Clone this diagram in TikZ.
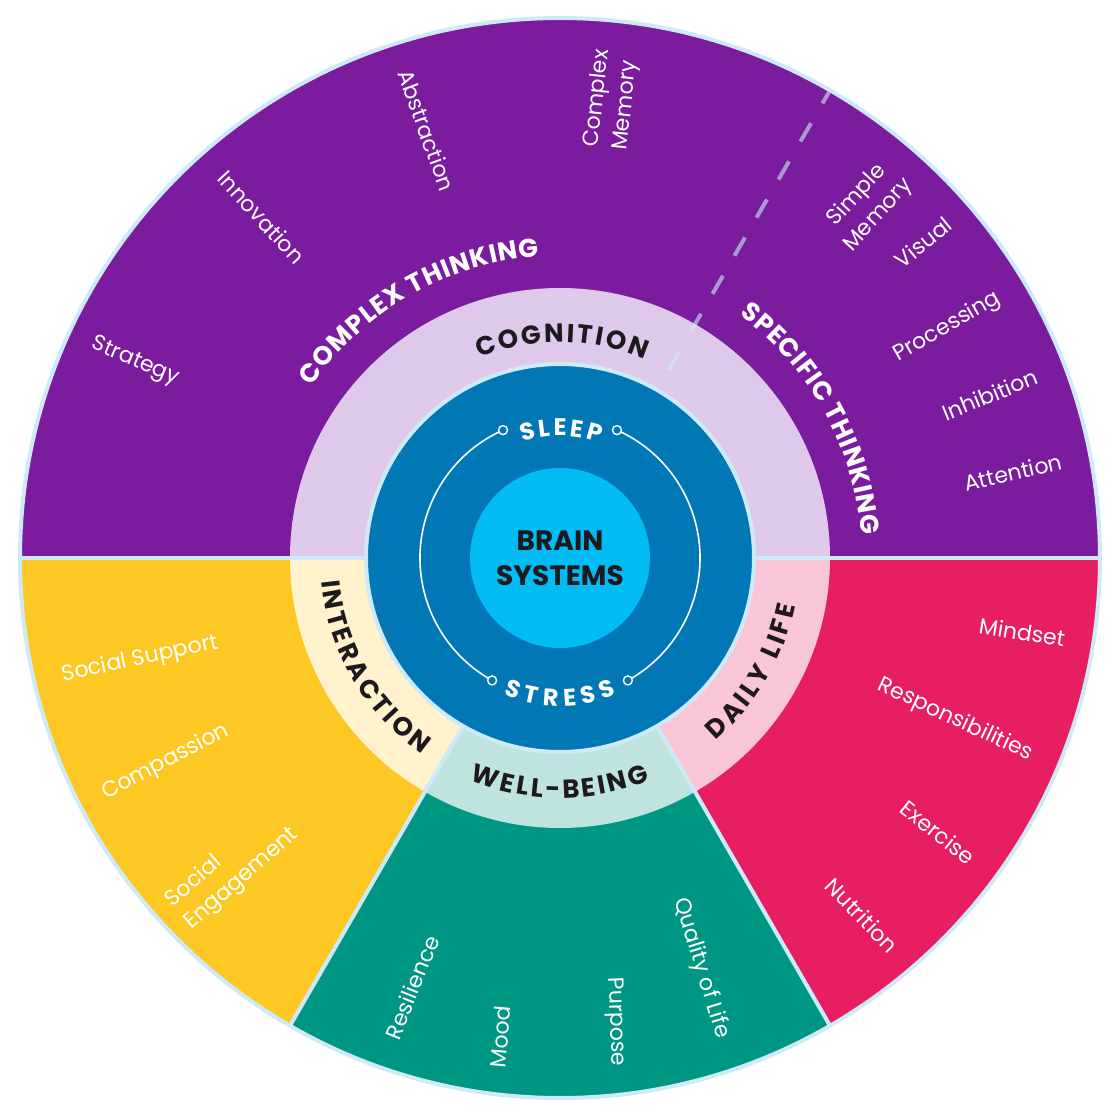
\documentclass[tikz,border=0pt]{standalone}
\usepackage{fontspec}
\setmainfont{Poppins}
\usetikzlibrary{decorations.text}

\definecolor{cogdark}{RGB}{122,28,157}
\definecolor{coglight}{RGB}{222,201,234}
\definecolor{intdark}{RGB}{253,200,35}
\definecolor{intlight}{RGB}{255,242,204}
\definecolor{weldark}{RGB}{0,150,132}
\definecolor{wellight}{RGB}{191,228,224}
\definecolor{daydark}{RGB}{232,30,99}
\definecolor{daylight}{RGB}{248,198,214}
\definecolor{brainblue}{RGB}{2,119,182}
\definecolor{braincyan}{RGB}{0,188,242}
\definecolor{rim}{RGB}{205,234,246}
\definecolor{ink}{RGB}{30,25,30}

\newcommand{\ringfont}{\bfseries\fontsize{26}{26}\selectfont}
\newcommand{\innerfont}{\bfseries\fontsize{24}{24}\selectfont}

\tikzset{
  item/.style={text=white, font=\fontsize{22}{29}\selectfont, align=center, inner sep=0pt},
  ringtext/.style n args={3}{decorate, decoration={text along path,
      text={|#3|#1}, text color=#2, text align=fit to path}},
  sep/.style={rim, line width=4pt},
}

\begin{document}
\begin{tikzpicture}[x=1pt,y=1pt]
\useasboundingbox (-560,-562) rectangle (560,558);
  % sectors, outer and inner ring
  \foreach \a/\b/\dark/\light in {0/180/cogdark/coglight, 180/240/intdark/intlight,
      240/300/weldark/wellight, 300/360/daydark/daylight} {
    \fill[\dark] (0,0) -- (\a:540) arc[start angle=\a, end angle=\b, radius=540] -- cycle;
    \fill[\light] (0,0) -- (\a:270) arc[start angle=\a, end angle=\b, radius=270] -- cycle;
  }
  % dashed split of cognition
  \draw[rim, opacity=.6, line width=4pt, dash pattern=on 21pt off 23pt] (60:217) -- (60:538);
  \foreach \a in {0,180,240,300}
    \draw[sep] (\a:190) -- (\a:540);
  \draw[sep] (0,0) circle[radius=540];
  % brain systems
  \draw[rim, line width=4pt, fill=brainblue] (0,0) circle[radius=194];
  \fill[braincyan] (0,0) circle[radius=90];
  \node[text=ink, font=\bfseries\fontsize{28}{35}\selectfont, align=center] (brain) at (0,0) {BRAIN\\SYSTEMS};
  \draw[white, line width=1.6pt] (66:140) arc[start angle=66, end angle=-61, radius=140];
  \draw[white, line width=1.6pt] (114:140) arc[start angle=114, end angle=241, radius=140];
  \foreach \a in {66,114,241,299}
    \draw[white, line width=1.4pt, fill=brainblue] (\a:140) circle[radius=4.5];
  \path[ringtext={SLEEP}{white}{\innerfont}]
    (108:122) arc[start angle=108, end angle=71, radius=122];
  \path[ringtext={STRESS}{white}{\innerfont}]
    (247.5:148) arc[start angle=247.5, end angle=292.5, radius=148];
  % ring labels
  \path[ringtext={COGNITION}{ink}{\ringfont}]
    (112:216) arc[start angle=112, end angle=67, radius=216];
  \path[ringtext={INTERACTION}{ink}{\ringfont}]
    (185.5:240) arc[start angle=185.5, end angle=235, radius=240];
  \path[ringtext={WELL-BEING}{ink}{\ringfont}]
    (248:240) arc[start angle=248, end angle=292, radius=240];
  \path[ringtext={DAILY LIFE}{ink}{\ringfont}]
    (-49.5:240) arc[start angle=-49.5, end angle=-11.5, radius=240];
  \path[ringtext={COMPLEX THINKING}{white}{\ringfont}]
    (145.4:302) arc[start angle=145.4, end angle=93.9, radius=302];
  \path[ringtext={SPECIFIC THINKING}{white}{\ringfont}]
    (53.6:302) arc[start angle=53.6, end angle=4.3, radius=302];
  % cognition items
  \node[item, rotate=-23] (strategy) at (155.2:468) {Strategy};
  \node[item, rotate=-47.5] (innovation) at (131.2:453) {Innovation};
  \node[item, rotate=-70] (abstraction) at (107.3:448) {Abstraction};
  \node[item, rotate=84, align=left] (cmemory) at (83.5:461) {Complex\\Memory};
  \node[item, rotate=47.5] (smemory) at (48.9:468) {Simple\\Memory};
  \node[item, rotate=39] (visual) at (41:481) {Visual};
  \node[item, rotate=30] (processing) at (30.8:451) {Processing};
  \node[item, rotate=22] (inhibition) at (20.8:460) {Inhibition};
  \node[item, rotate=13] (attention) at (10.7:461) {Attention};
  % daily life items
  \node[item, rotate=-9] (mindset) at (-9.1:468) {Mindset};
  \node[item, rotate=-25] (respons) at (-22.3:427) {Responsibilities};
  \node[item, rotate=-38.5] (exercise) at (-36:467) {Exercise};
  \node[item, rotate=-46] (nutrition) at (-49.8:468) {Nutrition};
  % well-being items
  \node[item, rotate=-73] (quality) at (-71:434) {Quality of Life};
  \node[item, rotate=-88] (purpose) at (-83.2:467) {Purpose};
  \node[item, rotate=85] (mood) at (-97.1:483) {Mood};
  \node[item, rotate=68] (resilience) at (-109:454) {Resilience};
  % interaction items
  \node[item, rotate=41, align=left] (engagement) at (223.4:451) {Social\\Engagement};
  \node[item, rotate=27.5] (compassion) at (207.4:444) {Compassion};
  \node[item, rotate=12] (support) at (193.6:432) {Social Support};
\end{tikzpicture}
\end{document}
